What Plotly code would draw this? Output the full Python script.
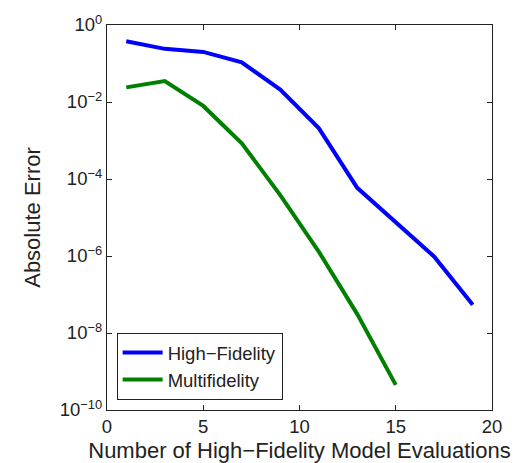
import plotly.graph_objects as go

hf_x = [1, 3, 5, 7, 9, 11, 13, 15, 17, 19]
hf_err = [0.38, 0.24, 0.20, 0.107, 0.021, 0.0021, 5.9e-5, 7.6e-6, 9.6e-7, 5.4e-8]
mf_x = [1, 3, 5, 7, 9, 11, 13, 15]
mf_err = [0.024, 0.035, 0.0079, 8.5e-4, 3.8e-5, 1.3e-6, 3.1e-8, 4.5e-10]

y_tickvals = [1, 1e-2, 1e-4, 1e-6, 1e-8, 1e-10]
y_ticktext = ["10<sup>0</sup>", "10<sup>−2</sup>", "10<sup>−4</sup>", "10<sup>−6</sup>",
              "10<sup>−8</sup>", "10<sup>−10</sup>"]
x_tickvals = [0, 5, 10, 15, 20]

font = dict(family="Liberation Sans, Arial, sans-serif", size=18.5, color="#222")

fig = go.Figure()
fig.add_trace(go.Scatter(x=hf_x, y=hf_err, mode="lines", name="High−Fidelity",
                         line=dict(color="#0000FF", width=4)))
fig.add_trace(go.Scatter(x=mf_x, y=mf_err, mode="lines", name="Multifidelity",
                         line=dict(color="#008000", width=4)))

fig.update_layout(
    width=520, height=463,
    margin=dict(l=107, r=28, t=25, b=53),
    paper_bgcolor="white", plot_bgcolor="white",
    font=font,
    showlegend=True,
    legend=dict(x=0.025, y=0.026, xanchor="left", yanchor="bottom",
                bordercolor="#222", borderwidth=1, bgcolor="white",
                font=dict(family=font["family"], size=18.5, color="#222"),
                tracegroupgap=0, itemwidth=40),
)
fig.update_xaxes(range=[0, 20], tickvals=x_tickvals, ticks="inside", ticklen=5,
                 tickcolor="#222", showline=True, linecolor="#222", linewidth=1.2,
                 mirror="ticks", showgrid=False, zeroline=False,
                 title=dict(text="Number of High−Fidelity Model Evaluations", standoff=6),
                 automargin=False)
fig.update_yaxes(type="log", range=[-10, 0], tickvals=y_tickvals, ticktext=y_ticktext,
                 ticks="inside", ticklen=5, tickcolor="#222", showline=True,
                 linecolor="#222", linewidth=1.2, mirror="ticks", showgrid=False,
                 zeroline=False, title=dict(text="Absolute Error", standoff=12),
                 automargin=False)

fig.write_html("out.html")
